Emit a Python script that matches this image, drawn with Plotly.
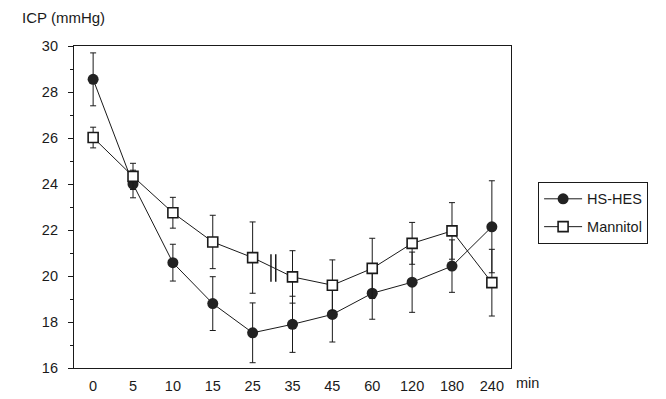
import plotly.graph_objects as go

time_labels = ["0", "5", "10", "15", "25", "35", "45", "60", "120", "180", "240"]
hes_values = [28.55, 24.0, 20.58, 18.8, 17.53, 17.9, 18.33, 19.25, 19.73, 20.43, 22.14]
hes_err = [1.15, 0.6, 0.8, 1.17, 1.3, 1.22, 1.2, 1.13, 1.31, 1.14, 2.0]
man_values = [26.02, 24.33, 22.75, 21.48, 20.8, 19.96, 19.6, 20.33, 21.42, 21.96, 19.71]
man_err = [0.45, 0.57, 0.67, 1.16, 1.55, 1.14, 1.1, 1.31, 0.91, 1.23, 1.45]

FONT = "Liberation Sans, Arial, sans-serif"
INK = "#1a1a1a"
FS = 14.5

fig = go.Figure()
fig.add_trace(go.Scatter(
    x=time_labels, y=hes_values, name="HS-HES", mode="lines+markers",
    legendgroup="a",
    line=dict(color=INK, width=1),
    marker=dict(symbol="circle", size=11, color="#222"),
    error_y=dict(type="data", array=hes_err, visible=True, color=INK, thickness=1, width=3),
))
fig.add_trace(go.Scatter(
    x=time_labels, y=man_values, name="Mannitol", mode="lines+markers",
    legendgroup="b",
    line=dict(color=INK, width=1),
    marker=dict(symbol="square", size=10, color="white", line=dict(color=INK, width=1.6)),
    error_y=dict(type="data", array=man_err, visible=True, color=INK, thickness=1, width=3),
))

# axis break marker "||" between 25 and 35
for xb in (4.46, 4.58):
    fig.add_shape(type="line", xref="x", yref="y", x0=xb, x1=xb, y0=19.75, y1=20.95,
                  line=dict(color=INK, width=1.5))

fig.add_annotation(text="ICP (mmHg)", xref="paper", yref="paper", x=-0.124, y=1.087,
                   xanchor="left", yanchor="middle", showarrow=False,
                   font=dict(family=FONT, size=FS + 0.5, color=INK))
fig.add_annotation(text="min", xref="paper", yref="paper", x=1.006, y=-0.047,
                   xanchor="left", yanchor="middle", showarrow=False,
                   font=dict(family=FONT, size=FS, color=INK))

fig.update_layout(
    width=666, height=399,
    margin=dict(l=66, r=163, t=38, b=39),
    paper_bgcolor="white", plot_bgcolor="white",
    font=dict(family=FONT, size=FS, color=INK),
    showlegend=True,
    legend=dict(x=1.062, y=0.578, xanchor="left", yanchor="top",
                bordercolor=INK, borderwidth=1, bgcolor="white",
                traceorder="grouped", tracegroupgap=6, itemwidth=38,
                font=dict(family=FONT, size=FS, color=INK)),
    xaxis=dict(type="category", range=[-0.48, 10.48], showgrid=False, zeroline=False,
               showline=True, linecolor=INK, linewidth=1.2, mirror=True,
               ticks="", ticklabelstandoff=4,
               tickfont=dict(family=FONT, size=FS, color=INK)),
    yaxis=dict(range=[16, 30], dtick=2, showgrid=False, zeroline=False,
               showline=True, linecolor=INK, linewidth=1.2, mirror=True,
               ticks="outside", ticklen=5, tickcolor=INK, ticklabelstandoff=7,
               minor=dict(dtick=1, ticks="outside", ticklen=3, tickcolor=INK, showgrid=False),
               tickfont=dict(family=FONT, size=FS, color=INK)),
)

fig.write_html("out.html")
